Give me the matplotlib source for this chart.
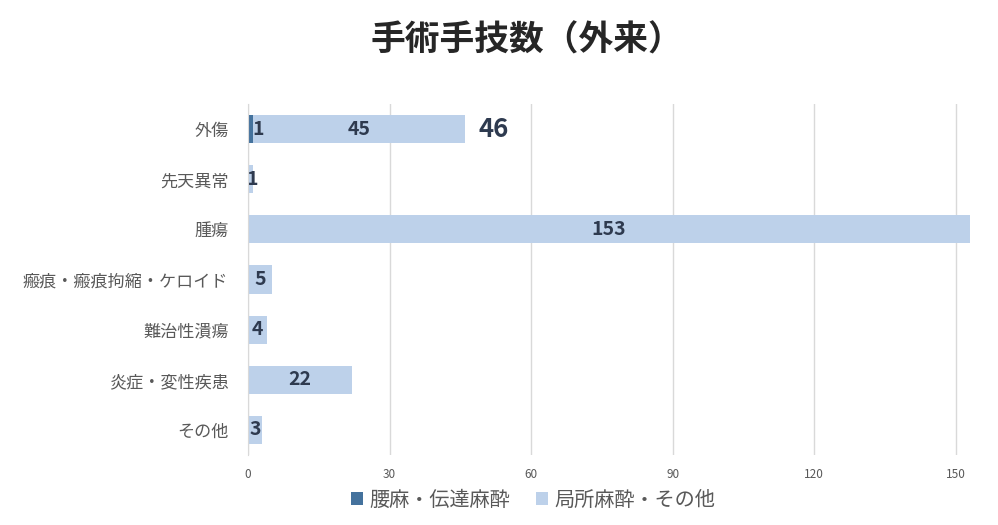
import matplotlib
matplotlib.use("Agg")
import matplotlib.pyplot as plt
import numpy as np

plt.rcParams['font.family'] = ['Noto Sans CJK JP', 'DejaVu Sans']

categories = ["外傷", "先天異常", "腫瘍", "瘢痕・瘢痕拘縮・ケロイド", "難治性潰瘍", "炎症・変性疾患", "その他"]
series_names = ["腰麻・伝達麻酔", "局所麻酔・その他"]
s1 = [1, 0, 0, 0, 0, 0, 0]
s2 = [45, 1, 153, 5, 4, 22, 3]
xticks = [0, 30, 60, 90, 120, 150]

c1 = "#44729D"
c2 = "#BDD1EA"
lab_col = "#2E3A4F"

fig = plt.figure(figsize=(9.98, 5.25), dpi=100)
ax = fig.add_axes([248/998, 1-455/525, (970-248)/998, (455-104)/525])

y = np.arange(len(categories))
h = 0.56
ax.barh(y, s1, height=h, color=c1, label=series_names[0], zorder=3)
ax.barh(y, s2, left=s1, height=h, color=c2, label=series_names[1], zorder=3)

for i in range(len(categories)):
    if s1[i] > 0:
        ax.text(s1[i], y[i], str(s1[i]), ha='left', va='center', fontsize=14,
                fontweight='bold', color=lab_col, zorder=4)
    if s2[i] > 0:
        cx = max(s1[i] + s2[i] / 2, 0.9)
        ax.text(cx, y[i], str(s2[i]), ha='center', va='center', fontsize=14,
                fontweight='bold', color=lab_col, zorder=4)
    if s1[i] > 0 and s2[i] > 0:
        tot = s1[i] + s2[i]
        ax.text(tot + 2.8, y[i], str(tot), ha='left', va='center', fontsize=18.5,
                fontweight='bold', color=lab_col, zorder=4)

ax.set_ylim(len(categories) - 0.5, -0.5)
ax.set_xlim(0, 153)
ax.set_yticks(y)
ax.set_yticklabels(categories, fontsize=12.3, color="#595959")
ax.set_xticks(xticks)
ax.set_xticklabels([str(t) for t in xticks], fontsize=8.5, color="#595959")
ax.tick_params(axis='y', length=0, pad=14)
ax.tick_params(axis='x', length=0, pad=9)
ax.grid(axis='x', color="#D9D9D9", linewidth=1, zorder=0)
for s in ['top', 'right', 'bottom']:
    ax.spines[s].set_visible(False)
ax.spines['left'].set_color("#D9D9D9")
ax.spines['left'].set_zorder(5)

fig.text(0.528, 1 - 40/525, "手術手技数（外来）", ha='center', va='center',
         fontsize=25, fontweight='bold', color="#262626")

leg = fig.legend(loc='center', bbox_to_anchor=(0.534, 1 - 500/525), ncol=2,
                 frameon=False, fontsize=14.5, handlelength=0.6, handleheight=0.6,
                 handletextpad=0.3, columnspacing=1.3)
for t in leg.get_texts():
    t.set_color("#595959")

fig.savefig("out.png", dpi=100)
